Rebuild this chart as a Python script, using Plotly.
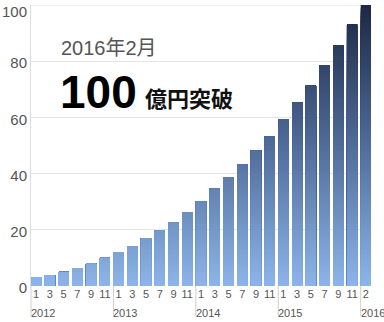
import plotly.graph_objects as go

years = ["2012"] * 6 + ["2013"] * 6 + ["2014"] * 6 + ["2015"] * 6 + ["2016"]
months = ["1", "3", "5", "7", "9", "11"] * 4 + ["2"]
values = [3.1, 3.9, 5.0, 6.4, 7.9, 10.0,
          12.0, 14.2, 17.0, 19.7, 22.7, 26.2,
          30.2, 34.6, 38.8, 43.4, 48.3, 53.3,
          59.3, 65.2, 71.3, 78.5, 85.8, 93.1,
          100.0]
year_labels = ["2012", "2013", "2014", "2015", "2016"]
y_ticks = [0, 20, 40, 60, 80, 100]

# gradient stops (value level -> rgb)
stops = [(0, (141, 181, 233)), (50, (80, 108, 154)), (100, (28, 40, 68))]


def color_at(level):
    for (a, ca), (b, cb) in zip(stops[:-1], stops[1:]):
        if a <= level <= b:
            t = (level - a) / (b - a)
            c = [round(ca[i] + (cb[i] - ca[i]) * t) for i in range(3)]
            return f"rgb({c[0]},{c[1]},{c[2]})"
    return f"rgb{stops[-1][1]}"


n = len(values)
xs = list(range(n))
bw = 0.75
x0, x1 = -bw / 2, n - 1 + bw / 2
step = 1.0
levels = int(max(values) / step + 0.999)

fig = go.Figure()
for k in range(levels - 1, -1, -1):
    top = (k + 1) * step
    fig.add_trace(go.Bar(
        x=xs, y=[min(v, top) for v in values], width=bw,
        marker=dict(color=color_at(k * step + step / 2), line=dict(width=0)),
        hoverinfo="skip", showlegend=False,
    ))

tick_font = dict(size=15, color="#555555", family="Liberation Sans")
shapes = []
annotations = []
for yl in year_labels:
    idx = years.index(yl)
    xp = (idx - bw / 2 - x0) / (x1 - x0)
    shapes.append(dict(type="line", xref="paper", yref="paper",
                       x0=xp, x1=xp, y0=0, y1=-0.108,
                       line=dict(color="#cfcfcf", width=1)))
    annotations.append(dict(text=yl, xref="paper", yref="paper",
                            x=xp, y=-0.097, xanchor="left", yanchor="middle",
                            showarrow=False, xshift=-2,
                            font=dict(size=11, color="#555555", family="Liberation Sans")))

# top tick label (kept inside the page, nudged down like the reference)
annotations.append(dict(text=str(y_ticks[-1]), xref="paper", yref="y",
                        x=0, y=y_ticks[-1], xanchor="right", yanchor="middle",
                        xshift=-2, yshift=-6, showarrow=False, font=tick_font))

annotations += [
    dict(text="2016年2月", xref="paper", yref="paper", x=0.082, y=0.847,
         xanchor="left", yanchor="middle", showarrow=False,
         font=dict(size=20, color="#555555", family="Liberation Sans, Noto Sans CJK JP")),
    dict(text="<b>100</b>", xref="paper", yref="paper", x=0.08, y=0.69,
         xanchor="left", yanchor="middle", showarrow=False,
         font=dict(size=46, color="#000000", family="Liberation Sans")),
    dict(text="億円突破", xref="paper", yref="paper", x=0.33, y=0.673,
         xanchor="left", yanchor="middle", showarrow=False,
         font=dict(size=22, color="#111111", family="Noto Sans CJK JP", weight=700)),
]

fig.update_layout(
    width=384, height=322,
    margin=dict(l=31, r=13, t=5, b=36),
    paper_bgcolor="white", plot_bgcolor="white",
    barmode="overlay",
    shapes=shapes, annotations=annotations,
    xaxis=dict(range=[x0, x1], tickvals=xs, ticktext=months, showgrid=False,
               zeroline=False, showline=False, ticks="",
               tickfont=dict(size=11, color="#555555", family="Liberation Sans")),
    yaxis=dict(range=[0, 100], tickvals=y_ticks[:-1], showgrid=True, gridcolor="#e6e6e6",
               zeroline=False, showline=True, linecolor="#dddddd", ticks="",
               ticklabelshift=2, tickfont=tick_font),
)
# gridline at the top value
fig.add_shape(type="line", xref="paper", yref="y", x0=0, x1=1,
              y0=y_ticks[-1], y1=y_ticks[-1], layer="below",
              line=dict(color="#e6e6e6", width=1))

fig.write_html("out.html")
